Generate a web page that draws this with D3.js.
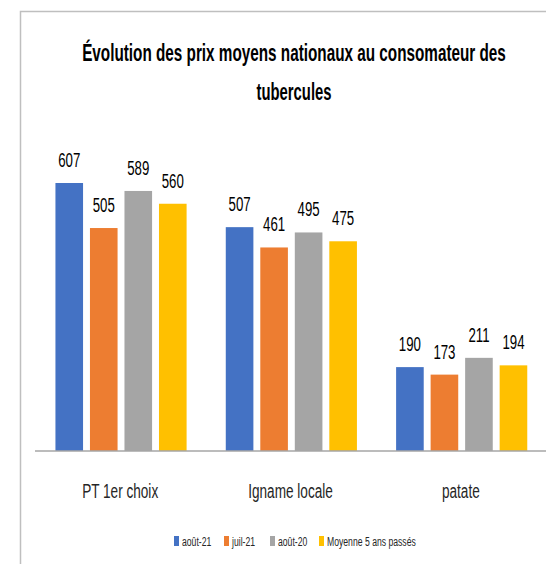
<!DOCTYPE html>
<html>
<head>
<meta charset="utf-8">
<script src="https://cdn.jsdelivr.net/npm/d3@7"></script>
<style>
  body { margin: 0; background: #fff; }
  svg { display: block; font-family: 'Liberation Sans', Arial, sans-serif; }
</style>
</head>
<body>
<svg width="546" height="564"></svg>
<script>
const categories = ['PT 1er choix', 'Igname locale', 'patate']
const seriesNames = ['août-21', 'juil-21', 'août-20', 'Moyenne 5 ans passés']
const aout21 = [607, 507, 190]
const juil21 = [505, 461, 173]
const aout20 = [589, 495, 211]
const moyenne5 = [560, 475, 194]
const colors = ['#4472C4', '#ED7D31', '#A5A5A5', '#FFC000']

const series = [aout21, juil21, aout20, moyenne5]
const squeeze = 0.68 // the reference font is narrow, so text is condensed

const svg = d3.select('svg')

// place a text at (x, y), squeezed horizontally
function put(sel, x, y, sx) {
  sel.attr('x', 0).attr('y', 0)
    .attr('transform', 'translate(' + x + ',' + y + ') scale(' + sx + ',1)')
}

// chart frame (only top and left edges visible)
svg.append('path')
  .attr('d', 'M20.5,564 V11.5 H546')
  .attr('fill', 'none')
  .attr('stroke', '#BFBFBF')
  .attr('stroke-width', 1.5)

// title, fitted to the width it has in the reference
const titleLines = [
  { text: 'Évolution des prix moyens nationaux au consomateur des', y: 61, w: 424 },
  { text: 'tubercules', y: 100, w: 75 }
]
titleLines.forEach(l => {
  const t = svg.append('text')
    .attr('text-anchor', 'middle')
    .attr('font-size', 23)
    .attr('font-weight', 'bold')
    .attr('fill', '#000')
    .text(l.text)
  const natural = t.node().getComputedTextLength()
  put(t, 294, l.y, l.w / natural)
})

const x0 = d3.scaleBand().domain(categories).range([35, 546]).padding(0)
const x1 = d3.scaleBand().domain(d3.range(seriesNames.length))
  .range([x0.bandwidth() * 0.12, x0.bandwidth() * 0.89]).paddingInner(0.2)
const y = d3.scaleLinear().domain([0, 607]).range([451, 183])

const groups = svg.append('g')
  .selectAll('g')
  .data(categories)
  .join('g')
  .attr('transform', d => 'translate(' + x0(d) + ',0)')

groups.selectAll('rect')
  .data((d, i) => series.map((s, j) => ({ j, v: s[i] })))
  .join('rect')
  .attr('x', d => x1(d.j))
  .attr('y', d => y(d.v))
  .attr('width', x1.bandwidth())
  .attr('height', d => y(0) - y(d.v))
  .attr('fill', d => colors[d.j])

groups.selectAll('text')
  .data((d, i) => series.map((s, j) => ({ j, v: s[i] })))
  .join('text')
  .attr('text-anchor', 'middle')
  .attr('font-size', 19.5)
  .attr('fill', '#000')
  .text(d => d.v)
  .each(function (d) {
    put(d3.select(this), x1(d.j) + x1.bandwidth() / 2, y(d.v) - 16, squeeze)
  })

// category axis
const axis = svg.append('g').attr('transform', 'translate(0,451)')
  .call(d3.axisBottom(x0).tickSize(0).tickPadding(0))
axis.select('.domain').attr('stroke', '#A6A6A6').attr('stroke-width', 1.5)
  .attr('d', 'M35,0H546')
axis.selectAll('.tick text')
  .attr('dy', null)
  .attr('font-size', 20)
  .attr('font-family', "'Liberation Sans', Arial, sans-serif")
  .attr('fill', '#262626')
  .each(function () { put(d3.select(this), 0, 47, squeeze) })

// legend
const legendX = [174, 224, 270, 319]
const legend = svg.append('g')
  .selectAll('g')
  .data(seriesNames)
  .join('g')
  .attr('transform', (d, i) => 'translate(' + legendX[i] + ',536)')
legend.append('rect')
  .attr('width', 5).attr('height', 10)
  .attr('fill', (d, i) => colors[i])
legend.append('text')
  .attr('font-size', 13.5)
  .attr('fill', '#262626')
  .text(d => d)
  .each(function () { put(d3.select(this), 8, 10, 0.64) })
</script>
</body>
</html>
